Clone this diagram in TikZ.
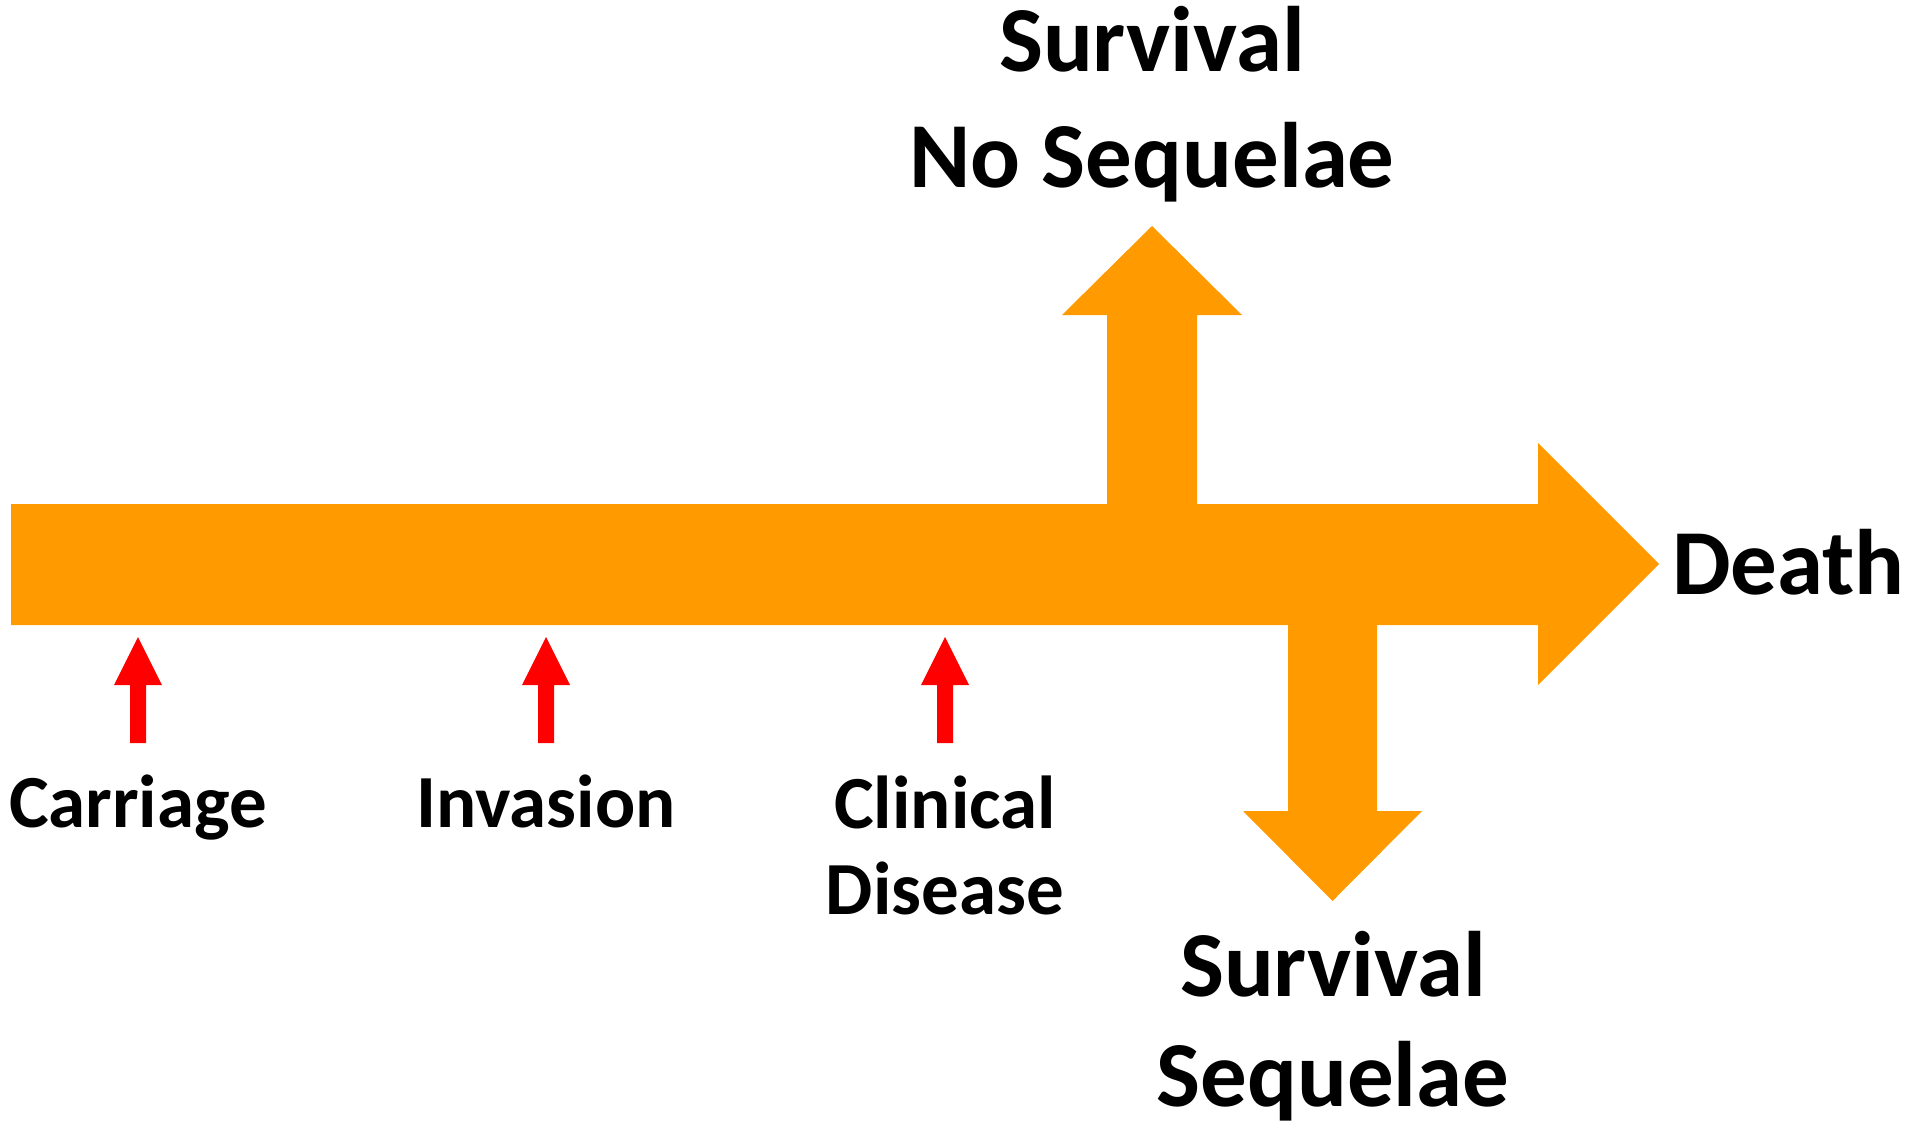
\documentclass[tikz,border=0pt]{standalone}
\usepackage{fontspec}
\setmainfont{Carlito}
\definecolor{flow}{HTML}{FF9A00}
\definecolor{mark}{HTML}{FF0000}
\begin{document}
\begin{tikzpicture}[x=1pt,y=-1pt,
  biglabel/.style={anchor=base,inner sep=0pt,font=\fontsize{93}{112}\selectfont\bfseries},
  smalllabel/.style={anchor=base,inner sep=0pt,font=\fontsize{75}{90}\selectfont\bfseries},
  redarrow/.style={fill=mark,draw=none}]
\useasboundingbox (0,0) rectangle (1914,1129);
% main orange flow shape (timeline with branches)
\fill[flow] (11,504) -- (1107,504) -- (1107,315) -- (1062,315) -- (1152,226)
  -- (1242,315) -- (1197,315) -- (1197,504) -- (1538,504) -- (1538,443)
  -- (1659,564) -- (1538,685) -- (1538,625) -- (1377,625) -- (1377,811)
  -- (1422,811) -- (1332.5,901) -- (1243,811) -- (1288,811) -- (1288,625)
  -- (11,625) -- cycle;
% red markers
\foreach \cx in {138,546,945}{
  \fill[redarrow] (\cx-8,743) -- (\cx-8,685) -- (\cx-24,685) -- (\cx,637)
    -- (\cx+24,685) -- (\cx+8,685) -- (\cx+8,743) -- cycle;
}
% labels
\node[biglabel] (surv1) at (1152,72) {Survival};
\node[biglabel] (nosq) at (1152,187) {No Sequelae};
\node[biglabel,anchor=base west] (death) at (1672,594) {Death};
\node[biglabel] (surv2) at (1333,996) {Survival};
\node[biglabel] (sq) at (1333,1106) {Sequelae};
\node[smalllabel] (carr) at (138,827) {Carriage};
\node[smalllabel] (inv) at (546,827) {Invasion};
\node[smalllabel] (clin) at (945,828) {Clinical};
\node[smalllabel] (dis) at (945,914) {Disease};
\end{tikzpicture}
\end{document}
